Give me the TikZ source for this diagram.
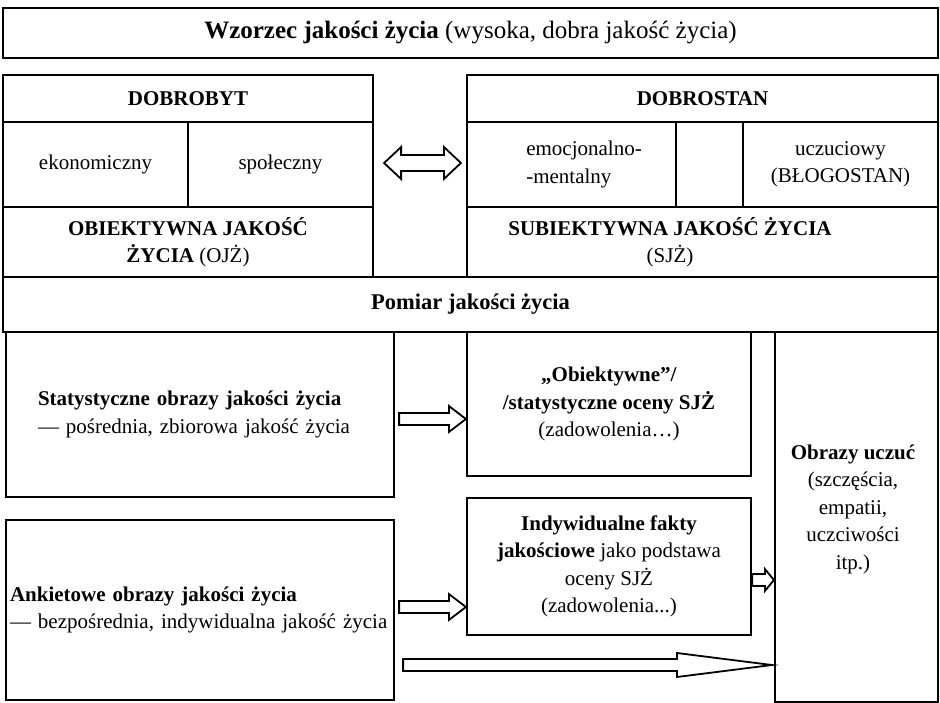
\documentclass[tikz,border=0pt]{standalone}
\usepackage{fontspec}
\setmainfont{Liberation Serif}
\usetikzlibrary{calc}

\begin{document}
\begin{tikzpicture}[
  x=1pt, y=-1pt,
  font=\fontsize{21}{27.5}\selectfont,
  box/.style={draw, line width=2.2pt, inner sep=0pt},
  txt/.style={align=center, inner sep=0pt},
  hollow/.style n args={3}{line width=1.8pt, line join=miter, to path={
    let \p1=(\tikztostart), \p2=(\tikztotarget) in
    (\x1,\y1+#1) -- (\x2-#3,\y2+#1) -- (\x2-#3,\y2+#2) -- (\x2,\y2)
    -- (\x2-#3,\y2-#2) -- (\x2-#3,\y2-#1) -- (\x1,\y1-#1) -- cycle}},
  twohollow/.style n args={3}{line width=1.8pt, line join=miter, to path={
    let \p1=(\tikztostart), \p2=(\tikztotarget) in
    (\x1,\y1) -- (\x1+#3,\y1+#2) -- (\x1+#3,\y1+#1) -- (\x2-#3,\y2+#1)
    -- (\x2-#3,\y2+#2) -- (\x2,\y2) -- (\x2-#3,\y2-#2) -- (\x2-#3,\y2-#1)
    -- (\x1+#3,\y1-#1) -- (\x1+#3,\y1-#2) -- cycle}}
]
\useasboundingbox (0,0) rectangle (940,703);

% wzorzec
\node[box, minimum width=935pt, minimum height=50pt] (wzorzec) at (470.5,33)
  {\fontsize{25}{29}\selectfont\textbf{Wzorzec jakości życia} (wysoka, dobra jakość życia)};

% dobrobyt (left block)
\node[box, minimum width=370pt, minimum height=47pt] (dobrobyt) at (188,98.5) {\textbf{DOBROBYT}};
\node[box, minimum width=185pt, minimum height=85pt] (ekon) at (95.5,164.5) {ekonomiczny};
\node[box, minimum width=185pt, minimum height=85pt] (spol) at (280.5,164.5) {społeczny};
\node[box, minimum width=370pt, minimum height=70pt, align=center] (ojz) at (188,242)
  {\textbf{OBIEKTYWNA JAKOŚĆ}\\\textbf{ŻYCIA} (OJŻ)};

% dobrostan (right block)
\node[box, minimum width=471pt, minimum height=47pt] (dobrostan) at (702.5,98.5) {\textbf{DOBROSTAN}};
\node[box, minimum width=209pt, minimum height=85pt] (emoc) at (571.5,164.5) {};
\node[txt, align=left] (emoctxt) at (584,164.5) {emocjonalno-\\-mentalny};
\node[box, minimum width=67pt, minimum height=85pt] (pusty) at (709.5,164.5) {};
\node[box, minimum width=195pt, minimum height=85pt, align=center] (uczu) at (840.5,164.5)
  {uczuciowy\\(BŁOGOSTAN)};
\node[box, minimum width=471pt, minimum height=70pt] (sjz) at (702.5,242) {};
\node[txt] (sjztxt) at (670,242) {\textbf{SUBIEKTYWNA JAKOŚĆ ŻYCIA}\\(SJŻ)};

% pomiar
\node[box, minimum width=935pt, minimum height=55pt] (pomiar) at (470.5,304.5)
  {\fontsize{22.5}{27}\selectfont\textbf{Pomiar jakości życia}};

% obrazy
\node[box, text width=324pt, inner xsep=32pt, minimum height=165pt, align=left] (stat) at (200,414.5)
  {\textbf{Statystyczne obrazy jakości życia}\\— pośrednia, zbiorowa jakość życia};
\node[box, text width=380pt, inner xsep=4pt, minimum height=180pt, align=left] (ankiet) at (200,610)
  {\textbf{Ankietowe obrazy jakości życia}\\— bezpośrednia, indywidualna jakość życia};
\node[box, minimum width=284pt, minimum height=144pt, align=center] (obiekt) at (609,404)
  {\textbf{„Obiektywne”/}\\\textbf{/statystyczne oceny SJŻ}\\(zadowolenia…)};
\node[box, minimum width=284pt, minimum height=137pt, align=center] (indyw) at (609,566.5)
  {\textbf{Indywidualne fakty}\\\textbf{jakościowe} jako podstawa\\oceny SJŻ\\(zadowolenia...)};
\node[box, minimum width=163pt, minimum height=370pt] (obrazy) at (856.5,517) {};
\node[txt] (obrazytxt) at (853,509)
  {\textbf{Obrazy uczuć}\\(szczęścia,\\empatii,\\uczciwości\\itp.)};

% strzalki
\coordinate (r1) at (0,419);
\coordinate (r2) at (0,607);
\coordinate (r3) at (0,580);
\coordinate (r4) at (0,665);
\coordinate (a0s) at ($(spol.east)+(10,-1.5)$);
\coordinate (a0e) at ($(emoc.west)+(-5,-1.5)$);
\coordinate (a1s) at ($(stat.east |- r1)+(4,0)$);
\coordinate (a1e) at (obiekt.west |- r1);
\coordinate (a2s) at ($(ankiet.east |- r2)+(4,0)$);
\coordinate (a2e) at (indyw.west |- r2);
\coordinate (a3s) at (indyw.east |- r3);
\coordinate (a3e) at (obrazy.west |- r3);
\coordinate (a4s) at ($(ankiet.east |- r4)+(8,0)$);
\coordinate (a4e) at ($(obrazy.west |- r4)+(-2,0)$);
\draw[twohollow={8pt}{16pt}{17pt}] (a0s) to (a0e);
\draw[hollow={6pt}{13pt}{17pt}] (a1s) to (a1e);
\draw[hollow={6pt}{13pt}{17pt}] (a2s) to (a2e);
\draw[hollow={6pt}{11pt}{9pt}] (a3s) to (a3e);
\draw[hollow={6pt}{12pt}{95pt}] (a4s) to (a4e);
\end{tikzpicture}
\end{document}
